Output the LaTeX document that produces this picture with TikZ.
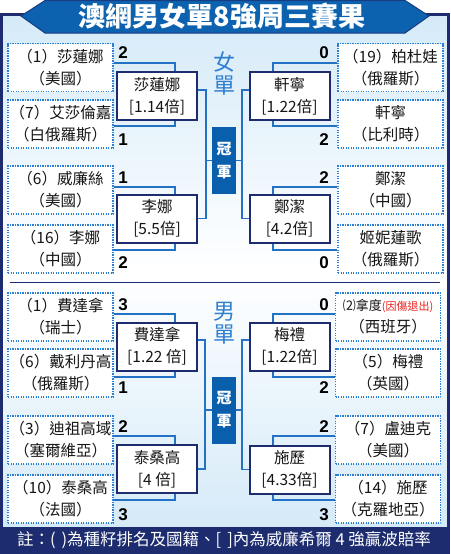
\documentclass[tikz,border=0pt]{standalone}
\usepackage{fontspec}
\usepackage{xcolor}
\setmainfont{Noto Sans CJK TC}
\newfontfamily\scorefont{Liberation Sans}

\definecolor{navy}{HTML}{1C2C6E}
\definecolor{bannerblue}{HTML}{0C62AE}
\definecolor{champblue}{HTML}{0A5FAC}
\definecolor{linkblue}{HTML}{2372C6}
\definecolor{dotblue}{HTML}{2A7FD4}
\definecolor{eventblue}{HTML}{2F7FD0}
\definecolor{bglight}{HTML}{D5EAF8}
\definecolor{ink}{HTML}{151515}
\definecolor{alert}{HTML}{E8231E}

\begin{document}
\begin{tikzpicture}[x=1pt, y=-1pt,
    player/.style={draw=dotblue, line width=1.1pt, dash pattern=on 1.1pt off 1.4pt,
        fill=white, minimum width=105pt, minimum height=48pt, inner sep=0pt,
        align=center, text=ink, font=\fontsize{15.5}{22}\selectfont},
    winner/.style={draw=navy, line width=2pt, fill=white, minimum width=80pt,
        minimum height=48pt, inner sep=0pt, align=center, text=ink,
        font=\fontsize{15.5}{22}\selectfont},
    champ/.style={fill=champblue, minimum width=24pt, minimum height=67pt, inner sep=0pt,
        align=center, text=white, font=\bfseries\fontsize{15}{23}\selectfont},
    event/.style={align=center, text=eventblue, inner sep=0pt,
        font=\fontsize{22}{23}\selectfont},
    score/.style={inner sep=0pt, text=black, font=\scorefont\bfseries\fontsize{17}{17}\selectfont},
    link/.style={draw=linkblue, line width=1.4pt}]

\useasboundingbox (0,0) rectangle (450,554);

% background and frame
\shade[top color=bglight, bottom color=bglight, middle color=white] (3,15) rectangle (447,527);
\fill[navy] (0,527) rectangle (450,554);
\draw[navy, line width=3pt] (1.5,14.5) rectangle (448.5,552.5);
\draw[navy, line width=1pt] (10,282) -- (440,282);

% title banner
\filldraw[fill=bannerblue, draw=navy!70!bannerblue, line width=1pt]
    (45,0.5) -- (405,0.5) -- (429,16) -- (405,33) -- (45,33) -- (21,16) -- cycle;
\node[text=white, font=\bfseries\fontsize{27}{27}\selectfont] (title) at (222,16) {澳網男女單8強周三賽果};

% women
\node[player] (wl1) at (60.5,67.5) {（1）莎蓮娜\\（美國）};
\node[player] (wl2) at (60.5,124) {（7）艾莎倫嘉\\（白俄羅斯）};
\node[player] (wl3) at (60.5,190) {（6）威廉絲\\（美國）};
\node[player] (wl4) at (60.5,249) {（16）李娜\\（中國）};
\node[player] (wr1) at (390.5,67.5) {（19）柏杜娃\\（俄羅斯）};
\node[player] (wr2) at (390.5,124) {軒寧\\（比利時）};
\node[player] (wr3) at (390.5,190) {鄭潔\\（中國）};
\node[player] (wr4) at (390.5,249) {姬妮蓮歌\\（俄羅斯）};

\node[winner] (ww1) at (157,96) {莎蓮娜\\{[1.14倍]}};
\node[winner] (ww2) at (157,218.5) {李娜\\{[5.5倍]}};
\node[winner] (ww3) at (289.5,96) {軒寧\\{[1.22倍]}};
\node[winner] (ww4) at (289.5,218.5) {鄭潔\\{[4.2倍]}};

\node[champ] (wc) at (224,160.5) {冠\\軍};
\node[event] (wev) at (224,73.5) {女\\單};

\node[score] (swl1) at (123,53) {2};
\node[score] (swl2) at (123,140) {1};
\node[score] (swl3) at (123,178) {1};
\node[score] (swl4) at (123,263) {2};
\node[score] (swr1) at (324,53) {0};
\node[score] (swr2) at (324,140) {2};
\node[score] (swr3) at (324,178) {2};
\node[score] (swr4) at (324,263) {0};

\draw[link] ([yshift=4.5pt]wl1.east) -| ([xshift=18pt]ww1.north);
\draw[link] ([yshift=-2pt]wl2.east) -| ([xshift=18pt]ww1.south);
\draw[link] ([yshift=3pt]wl3.east) -| ([xshift=18pt]ww2.north);
\draw[link] ([yshift=-1pt]wl4.east) -| ([xshift=18pt]ww2.south);
\draw[link] ([yshift=4.5pt]wr1.west) -| ([xshift=-16.5pt]ww3.north);
\draw[link] ([yshift=-2pt]wr2.west) -| ([xshift=-16.5pt]ww3.south);
\draw[link] ([yshift=3pt]wr3.west) -| ([xshift=-16.5pt]ww4.north);
\draw[link] ([yshift=-1pt]wr4.west) -| ([xshift=-16.5pt]ww4.south);

\coordinate (wjl) at (206,160.5);
\coordinate (wjr) at (242,160.5);
\draw[link] ([yshift=6pt]ww1.east) -| (wjl) |- (ww2.east);
\draw[link] ([yshift=6pt]ww3.west) -| (wjr) |- (ww4.west);
\draw[link] (wjl) -- (wc);
\draw[link] (wjr) -- (wc);

% men
\node[player] (ml1) at (60.5,317) {（1）費達拿\\（瑞士）};
\node[player] (ml2) at (60.5,373) {（6）戴利丹高\\（俄羅斯）};
\node[player] (ml3) at (60.5,440) {（3）迪祖高域\\（塞爾維亞）};
\node[player] (ml4) at (60.5,499) {（10）泰桑高\\（法國）};
\node[player] (mr1) at (388,317) {{\fontsize{13}{22}\selectfont ⑵拿度}{\color{alert}\fontsize{11}{22}\selectfont(因傷退出)}\\（西班牙）};
\node[player] (mr2) at (388,373) {（5）梅禮\\（英國）};
\node[player] (mr3) at (388,440) {（7）盧迪克\\（美國）};
\node[player] (mr4) at (388,499) {（14）施歷\\（克羅地亞）};

\node[winner] (mw1) at (157,346.5) {費達拿\\{[1.22 倍]}};
\node[winner] (mw2) at (157,469) {泰桑高\\{[4 倍]}};
\node[winner] (mw3) at (289.5,346.5) {梅禮\\{[1.22倍]}};
\node[winner] (mw4) at (289.5,469.5) {施歷\\{[4.33倍]}};

\node[champ] (mc) at (224,410) {冠\\軍};
\node[event] (mev) at (224,323.5) {男\\單};

\node[score] (sml1) at (123,305) {3};
\node[score] (sml2) at (123,388) {1};
\node[score] (sml3) at (123,427) {2};
\node[score] (sml4) at (123,515) {3};
\node[score] (smr1) at (324,305) {0};
\node[score] (smr2) at (324,388) {2};
\node[score] (smr3) at (324,427) {2};
\node[score] (smr4) at (324,515) {3};

\draw[link] ([yshift=3pt]ml1.east) -| ([xshift=18pt]mw1.north);
\draw[link] ([yshift=-4pt]ml2.east) -| ([xshift=18pt]mw1.south);
\draw[link] ([yshift=4pt]ml3.east) -| ([xshift=18pt]mw2.north);
\draw[link] ([yshift=-1pt]ml4.east) -| ([xshift=18pt]mw2.south);
\draw[link] ([yshift=3pt]mr1.west) -| ([xshift=-16.5pt]mw3.north);
\draw[link] ([yshift=-4pt]mr2.west) -| ([xshift=-16.5pt]mw3.south);
\draw[link] ([yshift=4pt]mr3.west) -| ([xshift=-16.5pt]mw4.north);
\draw[link] ([yshift=-1pt]mr4.west) -| ([xshift=-16.5pt]mw4.south);

\coordinate (mjl) at (205,410);
\coordinate (mjr) at (242,410);
\draw[link] ([yshift=6.5pt]mw1.east) -| (mjl) |- (mw2.east);
\draw[link] ([yshift=6.5pt]mw3.west) -| (mjr) |- (mw4.west);
\draw[link] (mjl) -- (mc);
\draw[link] (mjr) -- (mc);

% footer
\node[text=white, font=\fontsize{16.5}{16.5}\selectfont] (note) at (224,540.5)
    {註：(\hspace{6pt})為種籽排名及國籍、[\hspace{6pt}]內為威廉希爾 4 強贏波賠率};
\end{tikzpicture}
\end{document}
